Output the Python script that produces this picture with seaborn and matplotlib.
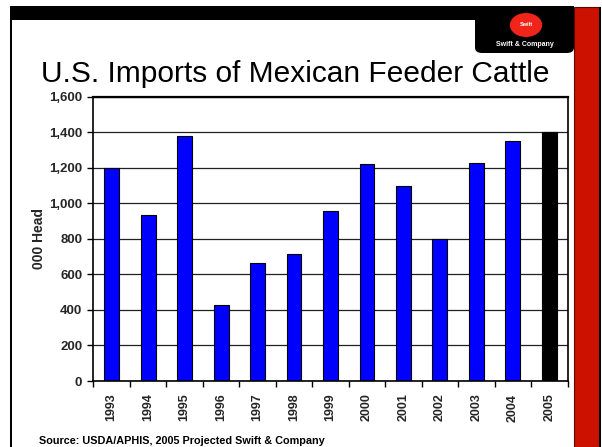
import matplotlib
matplotlib.use("Agg")
import matplotlib.pyplot as plt
import seaborn as sns
import pandas as pd
from matplotlib.patches import Rectangle, FancyBboxPatch, Circle
from matplotlib.ticker import FuncFormatter, FixedLocator, NullFormatter

years = ["1993", "1994", "1995", "1996", "1997", "1998", "1999",
         "2000", "2001", "2002", "2003", "2004", "2005"]
imports = [1200, 937, 1380, 426, 665, 714, 956, 1221, 1095, 800, 1228, 1352, 1400]
bar_colors = ["#0000FF"] * 12 + ["#000000"]

title = "U.S. Imports of Mexican Feeder Cattle"
ylabel = "000 Head"
source = "Source: USDA/APHIS, 2005 Projected Swift & Company"

sns.set_theme(style="white")
plt.rcParams["font.family"] = ["Liberation Sans", "DejaVu Sans"]

W, H = 602, 447
fig = plt.figure(figsize=(W / 100, H / 100), dpi=100)
fig.patch.set_facecolor("white")

def fx(x):
    return x / W

def fy(y):
    return 1 - y / H

# slide decorations
fig.add_artist(Rectangle((fx(10), fy(20)), fx(574) - fx(10), fy(6) - fy(20),
                         transform=fig.transFigure, color="black", lw=0))
fig.add_artist(Rectangle((fx(10), 0), fx(12) - fx(10), fy(6),
                         transform=fig.transFigure, color="black", lw=0))
fig.add_artist(FancyBboxPatch((fx(475), fy(53)), fx(574) - fx(475), fy(6) - fy(53),
                              boxstyle="round,pad=0,rounding_size=0.012",
                              transform=fig.transFigure, color="black", lw=0))
fig.add_artist(Rectangle((fx(574), 0), fx(599) - fx(574), fy(7),
                         transform=fig.transFigure, facecolor="#CC1100",
                         edgecolor="#5a0a00", lw=0.8))
fig.add_artist(Rectangle((fx(599), 0), fx(601) - fx(599), fy(7),
                         transform=fig.transFigure, color="black", lw=0))
fig.add_artist(Circle((fx(526), fy(25)), 12 / H, transform=fig.transFigure,
                      color="#F02418", lw=0))
fig.text(fx(526), fy(25), "Swift", color="white", fontsize=4, fontweight="bold",
         ha="center", va="center")
fig.text(fx(525), fy(44), "Swift & Company", color="white", fontsize=5,
         fontweight="bold", ha="center", va="center")

fig.text(fx(295), fy(82), title, fontsize=21.5, ha="center", va="baseline",
         color="black")
fig.text(fx(39), fy(441), source, fontsize=7.8, fontweight="bold",
         ha="left", va="center", color="black")

ax = fig.add_axes([fx(93.3), fy(381), fx(567.7) - fx(93.3), fy(96.7) - fy(381)])
df = pd.DataFrame({"year": years, "imports": imports})
sns.barplot(data=df, x="year", y="imports", hue="year", palette=bar_colors,
            legend=False, width=0.41, edgecolor="black", linewidth=0.8, ax=ax,
            saturation=1)

ax.set_xlim(-0.5, len(years) - 0.5)
ax.set_ylim(0, 1600)
ax.set_yticks(range(0, 1601, 200))
ax.yaxis.set_major_formatter(FuncFormatter(lambda v, p: f"{int(v):,}"))
ax.grid(axis="y", color="#222222", lw=0.9)
ax.set_axisbelow(True)
for s in ax.spines.values():
    s.set_visible(True)
    s.set_color("black")
    s.set_linewidth(1.2)
ax.spines["top"].set_linewidth(1.6)

# category labels at centres, tick marks at boundaries
ax.set_xticks(range(len(years)))
ax.set_xticklabels(years, rotation=90, fontsize=9, fontweight="bold")
ax.tick_params(axis="x", which="major", length=0, pad=9)
ax.xaxis.set_minor_locator(FixedLocator([i - 0.5 for i in range(len(years) + 1)]))
ax.xaxis.set_minor_formatter(NullFormatter())
ax.tick_params(axis="x", which="minor", bottom=True, length=4, width=1, color="black",
               direction="out")
ax.tick_params(axis="y", left=True, length=4, width=1, color="black", direction="out",
               pad=4, labelsize=9.5)
for lab in ax.get_yticklabels():
    lab.set_fontweight("bold")
ax.set_xlabel("")
ax.set_ylabel(ylabel, fontsize=10, fontweight="bold", labelpad=2)

fig.savefig("out.png", dpi=100)
